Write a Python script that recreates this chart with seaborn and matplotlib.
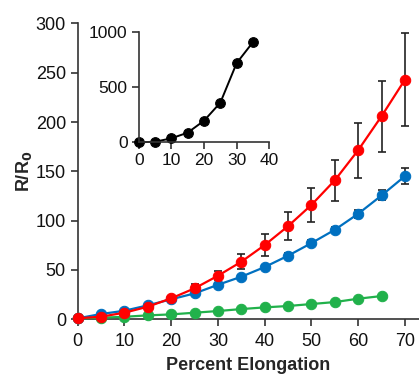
import matplotlib
matplotlib.use("Agg")
import matplotlib.pyplot as plt
import seaborn as sns
import pandas as pd

sns.set_style("ticks")
plt.rcParams['font.family'] = ['Liberation Sans', 'DejaVu Sans']

# Main chart data
elong = [0, 5, 10, 15, 20, 25, 30, 35, 40, 45, 50, 55, 60, 65, 70]
red_vals = [1, 2.7, 6.7, 12.8, 21.3, 31.4, 44.2, 58.4, 75.3, 94.5, 116, 141, 171.5, 206, 243]
red_err = [0.3, 0.5, 1, 1.5, 2, 4, 4.5, 7.5, 11, 14, 17.5, 21, 28, 36, 47]
blue_vals = [1, 5.4, 8.7, 14.2, 20.3, 26.3, 35, 43.2, 53, 64.5, 77.3, 90.8, 107, 125.6, 145.2]
blue_err = [0.3, 0.5, 0.7, 1, 1, 1.2, 1.5, 2, 2, 2.5, 3, 2.5, 4, 5, 8]
green_elong = [0, 5, 10, 15, 20, 25, 30, 35, 40, 45, 50, 55, 60, 65]
green_vals = [1, 1.6, 2.6, 4, 5, 6.7, 8.4, 10.4, 12.1, 13.5, 15.5, 17.5, 20.9, 23.6]

# Inset data
inset_elong = [0, 5, 10, 15, 20, 25, 30, 35]
inset_vals = [0, 5, 36, 87, 195, 358, 716, 906]

RED = '#FF0000'
BLUE = '#0070C0'
GREEN = '#21B14B'

fig = plt.figure(figsize=(4.19, 3.77), dpi=100)
ax = fig.add_axes([0.1855, 0.153, 1.0 - 0.1855, 0.938 - 0.153])

df_red = pd.DataFrame({'x': elong, 'y': red_vals})
df_blue = pd.DataFrame({'x': elong, 'y': blue_vals})
df_green = pd.DataFrame({'x': green_elong, 'y': green_vals})

ax.errorbar(elong, blue_vals, yerr=blue_err, fmt='none', ecolor='#222222',
            elinewidth=1.2, capsize=3, capthick=1.2, zorder=2, clip_on=False)
ax.errorbar(elong, red_vals, yerr=red_err, fmt='none', ecolor='#222222',
            elinewidth=1.2, capsize=3, capthick=1.2, zorder=2, clip_on=False)

for d, c in [(df_green, GREEN), (df_blue, BLUE), (df_red, RED)]:
    sns.lineplot(data=d, x='x', y='y', ax=ax, color=c, marker='o', markersize=7.5,
                 markeredgecolor=c, linewidth=1.6, clip_on=False, zorder=3)

ax.set_xlim(0, 73)
ax.set_ylim(0, 300)
ax.set_xticks(range(0, 71, 10))
ax.set_yticks(range(0, 301, 50))
for s in ['top', 'right']:
    ax.spines[s].set_visible(False)
for s in ['left', 'bottom']:
    ax.spines[s].set_color('#333333')
    ax.spines[s].set_linewidth(1.2)
ax.tick_params(axis='both', labelsize=13, direction='out', length=5, width=1.2,
               color='#333333', labelcolor='#111111')
ax.tick_params(axis='x', pad=5)
ax.set_xlabel('Percent Elongation', fontsize=13, fontweight='bold', labelpad=5)
ax.set_ylabel('R/R$_\\mathbf{0}$', fontsize=13, fontweight='bold', labelpad=1)

# Inset
ax_in = fig.add_axes([138.7 / 419, 1 - 142.3 / 377, (269.3 - 138.7) / 419, (142.3 - 31.7) / 377])
df_in = pd.DataFrame({'x': inset_elong, 'y': inset_vals})
sns.lineplot(data=df_in, x='x', y='y', ax=ax_in, color='black', marker='o', markersize=7,
             markeredgecolor='black', linewidth=1.4, clip_on=False)
ax_in.set_xlim(0, 40)
ax_in.set_ylim(0, 1000)
ax_in.set_xticks(range(0, 41, 10))
ax_in.set_yticks([0, 500, 1000])
ax_in.patch.set_alpha(0)
for s in ['top', 'right']:
    ax_in.spines[s].set_visible(False)
for s in ['left', 'bottom']:
    ax_in.spines[s].set_color('#333333')
    ax_in.spines[s].set_linewidth(1.2)
ax_in.tick_params(axis='both', labelsize=12.5, direction='out', length=5, width=1.2,
                  color='#333333', labelcolor='#111111', pad=3)
ax_in.set_xlabel('')
ax_in.set_ylabel('')

fig.savefig('out.png', dpi=100)
